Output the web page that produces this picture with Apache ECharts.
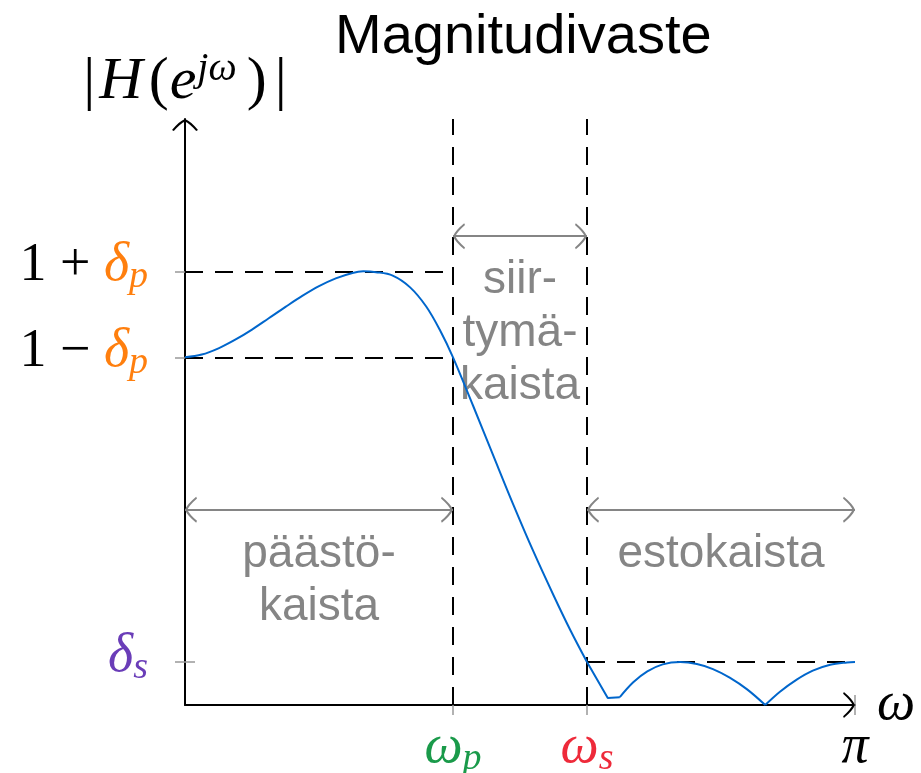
<!DOCTYPE html>
<html><head><meta charset="utf-8">
<script src="https://cdn.jsdelivr.net/npm/echarts@6/dist/echarts.min.js"></script>
<style>html,body{margin:0;padding:0;background:#fff}#c{width:921px;height:773px}</style>
</head><body><div id="c"></div>
<script>
// ---- data (omega in units of pi) ----
const omegaP = 0.4, omegaS = 0.6, omegaMax = 1.0;
const deltaP = 0.11, deltaS = 0.11;
const yMax = 1.5;
const passArrowY = 0.5, transArrowY = 1.2, stopArrowY = 0.5;
const curveW = [0, 0.025, 0.05, 0.075, 0.1, 0.125, 0.15, 0.175, 0.2, 0.225, 0.25, 0.266, 0.285, 0.31, 0.336, 0.36, 0.381, 0.4,
  0.43, 0.46, 0.49, 0.52, 0.55, 0.575, 0.6,
  0.631, 0.649,
  0.669, 0.69, 0.713, 0.739, 0.764, 0.788, 0.813, 0.839, 0.866,
  0.888, 0.913, 0.937, 0.963, 0.988, 1.0];
const curveH = [0.89, 0.897, 0.913, 0.935, 0.961, 0.99, 1.019, 1.047, 1.072, 1.092, 1.106, 1.11, 1.108, 1.099, 1.069, 1.02, 0.958, 0.89,
  0.766, 0.639, 0.513, 0.393, 0.281, 0.192, 0.11,
  0.018, 0.02,
  0.058, 0.086, 0.104, 0.11, 0.105, 0.092, 0.07, 0.04, 0,
  0.034, 0.065, 0.088, 0.103, 0.109, 0.11];
// where the drawn curve has corners (stop-band edge, plateau end, stop-band zero)
const curveCorners = [0.6, 0.649, 0.866];
const xTickValues = [omegaP, omegaS, omegaMax];
const xTickLabels = ['{g|ω}{gs|p}', '{r|ω}{rs|s}', '{k|π}'];
const yTickValues = [deltaS, 1 - deltaP, 1 + deltaP];
const yTickLabels = ['{v|δ}{vs|s}', '{n|1 − }{o|δ}{os|p}', '{n|1 + }{o|δ}{os|p}'];
const yAxisName = '{b1||}{h|H}{lp|(}{e|e}{sup|jω}{rp|)}{b2||}';
const xAxisName = 'ω';
const bandLabels = ['päästö-\nkaista', 'siir-\ntymä-\nkaista', 'estokaista'];
const titleText = 'Magnitudivaste';

// ---- styles ----
const SERIF = '"Liberation Serif", "DejaVu Serif", serif';
const SANS = '"Liberation Sans", Arial, sans-serif';
const GRAY = '#858585';
const BLUE = '#0066cc';
const ORANGE = '#ff7f0e', PURPLE = '#6a3db8', GREEN = '#1a9a4a', RED = '#ee2a3a';
const MAIN = 54, SUB = 38, LH = 60;
function m(color, italic) { return {fontFamily: SERIF, fontSize: MAIN, lineHeight: LH, color: color, fontStyle: italic ? 'italic' : 'normal'}; }
function s(color) { return {fontFamily: SERIF, fontSize: SUB, lineHeight: SUB, color: color, fontStyle: 'italic', verticalAlign: 'bottom'}; }
const rich = {
  n: m('#000', false), k: m('#000', true),
  o: m(ORANGE, true), os: s(ORANGE),
  v: m(PURPLE, true), vs: s(PURPLE),
  g: m(GREEN, true), gs: s(GREEN),
  r: m(RED, true), rs: s(RED)
};
const NM = 60;
function nm(italic, pad) { return {fontFamily: SERIF, fontSize: NM, lineHeight: 66, color: '#000', fontStyle: italic ? 'italic' : 'normal', padding: pad}; }
const nameRich = {
  b1: nm(false, [0, 4, 0, 0]), h: nm(true, [0, 6, 0, 0]), lp: nm(false, [0, 1, 0, 0]), e: nm(true, [0, 1, 0, 0]),
  sup: {fontFamily: SERIF, fontSize: 40, lineHeight: 40, color: '#000', fontStyle: 'italic', verticalAlign: 'top', padding: [0, 10, 0, 0]},
  rp: nm(false, [0, 8, 0, 0]), b2: nm(false, [0, 0, 0, 0])
};
const arrowHead = 'path://M13,0 Q7.5,2 0,11 L1.8,11.8 Q8.5,4.3 13,2.3 Z M13,0 Q18.5,2 26,11 L24.2,11.8 Q17.5,4.3 13,2.3 Z';
function pick(vals, labels, v) { let b = 0; for (let k = 1; k < vals.length; k++) if (Math.abs(vals[k] - v) < Math.abs(vals[b] - v)) b = k; return labels[b]; }
const tickStyle = {color: '#999', width: 1.5};

// split curve into pieces at its corners, so smoothing keeps the corners sharp
const pts = curveW.map((w, k) => [w, curveH[k]]);
const cuts = [0].concat(curveCorners.map(c => curveW.indexOf(c)), [curveW.length - 1]);
const curveSeries = [];
for (let k = 0; k < cuts.length - 1; k++) {
  const piece = pts.slice(cuts[k], cuts[k + 1] + 1);
  curveSeries.push({type: 'line', data: piece, showSymbol: false, silent: true, z: 5,
    smooth: piece.length > 3 ? 0.35 : false, lineStyle: {color: BLUE, width: 2}});
}

const chart = echarts.init(document.getElementById('c'), null, {renderer: 'canvas'});
const option = {
  animation: false,
  backgroundColor: '#fff',
  title: {text: titleText, left: 330, top: 5, textStyle: {fontFamily: SANS, fontSize: 56, fontWeight: 'normal', color: '#000'}},
  grid: {left: 185, right: 66, top: 119, bottom: 68, containLabel: false, outerBoundsMode: 'none'},
  xAxis: [{
    type: 'value', min: 0, max: omegaMax,
    name: xAxisName, nameLocation: 'end', nameGap: 22,
    nameTextStyle: {fontFamily: SERIF, fontStyle: 'italic', fontSize: MAIN, color: '#000', verticalAlign: 'middle', padding: [0, 0, 5, 0]},
    axisLine: {lineStyle: {color: '#000', width: 2}, symbol: ['none', arrowHead], symbolSize: [26, 12], symbolOffset: [0, -6]},
    axisTick: {show: true, length: 10, customValues: xTickValues, lineStyle: tickStyle},
    axisLabel: {show: true, customValues: xTickValues, margin: 13, formatter: v => pick(xTickValues, xTickLabels, v), rich: rich},
    splitLine: {show: false}
  }, {
    type: 'value', min: 0, max: omegaMax, position: 'bottom',
    axisLine: {show: false}, axisLabel: {show: false}, splitLine: {show: false},
    axisTick: {show: true, inside: true, length: 10, customValues: xTickValues, lineStyle: tickStyle}
  }],
  yAxis: [{
    type: 'value', min: 0, max: yMax,
    name: yAxisName, nameLocation: 'end', nameGap: 4,
    nameTextStyle: {rich: nameRich, align: 'center'},
    axisLine: {lineStyle: {color: '#000', width: 2}, symbol: ['none', arrowHead], symbolSize: [26, 12], symbolOffset: [0, -6]},
    axisTick: {show: true, length: 10, customValues: yTickValues, lineStyle: tickStyle},
    axisLabel: {show: true, customValues: yTickValues, margin: 37, padding: [0, 0, 11, 0], formatter: v => pick(yTickValues, yTickLabels, v), rich: rich},
    splitLine: {show: false}
  }, {
    type: 'value', min: 0, max: yMax, position: 'left',
    axisLine: {show: false}, axisLabel: {show: false}, splitLine: {show: false},
    axisTick: {show: true, inside: true, length: 10, customValues: yTickValues, lineStyle: tickStyle}
  }],
  series: curveSeries.concat([{
    type: 'line', data: [], silent: true, z: 3,
    markLine: {
      silent: true, symbol: ['none', 'none'], label: {show: false},
      lineStyle: {color: '#000', width: 2, type: [18, 12]},
      data: [
        [{coord: [0, 1 + deltaP]}, {coord: [omegaP, 1 + deltaP]}],
        [{coord: [0, 1 - deltaP]}, {coord: [omegaP, 1 - deltaP]}],
        [{coord: [omegaP, 0]}, {coord: [omegaP, yMax]}],
        [{coord: [omegaS, 0]}, {coord: [omegaS, yMax]}],
        [{coord: [omegaS, deltaS]}, {coord: [omegaMax, deltaS]}]
      ]
    }
  }, {
    type: 'line', data: [], silent: true, z: 4,
    markLine: {
      silent: true, symbol: [arrowHead, arrowHead], symbolSize: [26, 12], symbolOffset: [[0, 6], [0, 6]],
      label: {show: false},
      lineStyle: {color: GRAY, width: 2, type: 'solid'},
      data: [
        [{coord: [0, passArrowY]}, {coord: [omegaP, passArrowY]}],
        [{coord: [omegaP, transArrowY]}, {coord: [omegaS, transArrowY]}],
        [{coord: [omegaS, stopArrowY]}, {coord: [omegaMax, stopArrowY]}]
      ]
    }
  }])
};
chart.setOption(option);

const bandPos = [
  [(0 + omegaP) / 2, passArrowY],
  [(omegaP + omegaS) / 2, transArrowY],
  [(omegaS + omegaMax) / 2, stopArrowY]
];
const graphics = bandLabels.map((t, k) => {
  const p = chart.convertToPixel({xAxisIndex: 0, yAxisIndex: 0}, bandPos[k]);
  return {type: 'text', x: p[0], y: p[1] + 18, silent: true,
    style: {text: t, fill: GRAY, font: '46px ' + SANS, textAlign: 'center', textVerticalAlign: 'top', lineHeight: 53}};
});
chart.setOption({graphic: graphics});
</script></body></html>
